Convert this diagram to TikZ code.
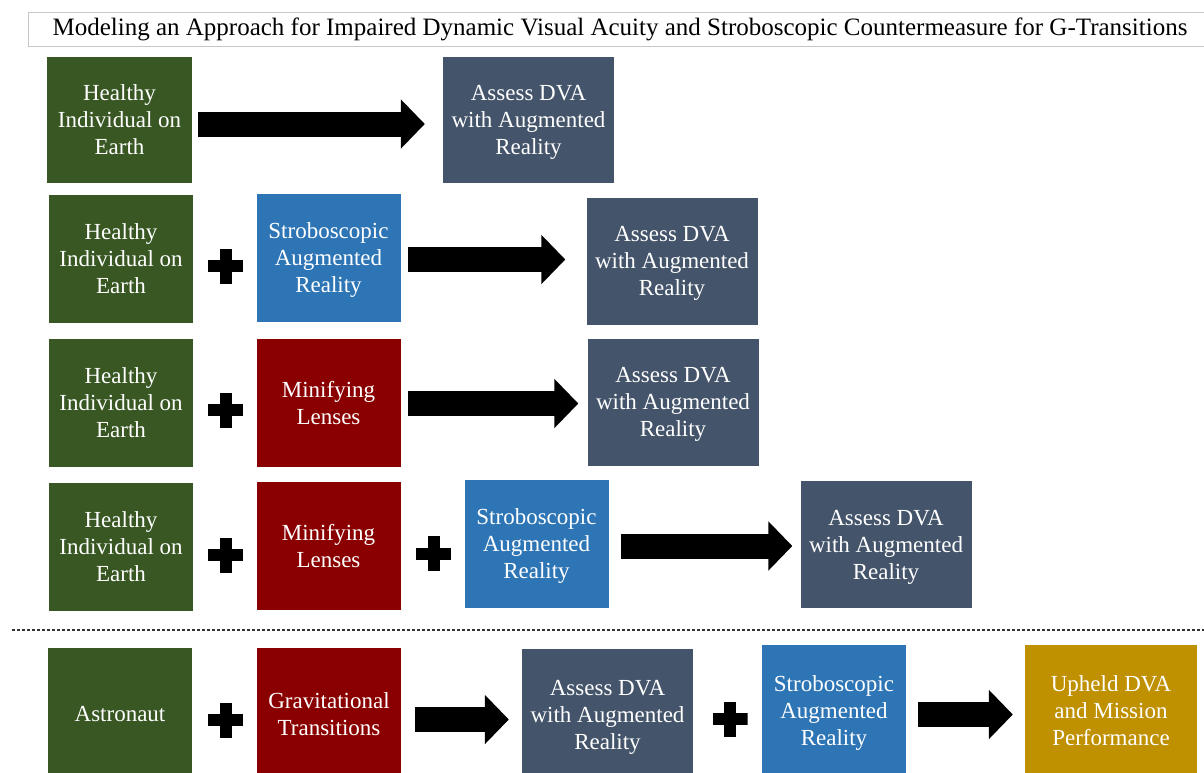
\documentclass[tikz,border=0pt]{standalone}
\usepackage{fontspec}
\setmainfont{Liberation Serif}
\usetikzlibrary{arrows.meta}
\definecolor{cgreen}{HTML}{385723}
\definecolor{cslate}{HTML}{44546A}
\definecolor{cblue}{HTML}{2E75B6}
\definecolor{cred}{HTML}{8A0000}
\definecolor{cgold}{HTML}{BF9000}
\tikzset{
  box/.style={inner sep=0pt, align=center, text=white,
    font=\fontsize{23}{27}\selectfont, text depth=-4pt},
  greenbox/.style={box, fill=cgreen, minimum width=144pt, minimum height=128pt},
  redbox/.style={box, fill=cred, minimum width=144pt, minimum height=128pt},
  bluebox/.style={box, fill=cblue, minimum width=144pt, minimum height=128pt},
  slatebox/.style={box, fill=cslate, minimum width=171pt, minimum height=127pt},
  goldbox/.style={box, fill=cgold, minimum width=172pt, minimum height=132pt},
  plussign/.style={inner sep=0pt, minimum size=35pt,
    path picture={
      \fill[black] ([xshift=-17.5pt,yshift=-6pt]path picture bounding box.center) rectangle ([xshift=17.5pt,yshift=6pt]path picture bounding box.center);
      \fill[black] ([xshift=-6pt,yshift=-17.5pt]path picture bounding box.center) rectangle ([xshift=6pt,yshift=17.5pt]path picture bounding box.center);
    }},
  bigarrow/.style={line width=25pt, black, -{Triangle[length=24pt,width=48pt]}},
}
\begin{document}
\begin{tikzpicture}[x=1pt,y=-1pt]
\useasboundingbox (0,0) rectangle (1204,772);
\clip (0,0) rectangle (1204,772);
\fill[white] (0,0) rectangle (1204,772);
% title
\node[draw=black!22, line width=1pt, minimum width=1184pt, minimum height=34pt, inner sep=0pt,
  font=\fontsize{25}{27}\selectfont, text depth=4pt] (title) at (620,29)
  {Modeling an Approach for Impaired Dynamic Visual Acuity and Stroboscopic Countermeasure for G-Transitions};
% row 1
\node[greenbox, minimum width=145pt, minimum height=126pt] (g1) at (119.5,120) {Healthy\\Individual on\\Earth};
\node[slatebox, minimum height=126pt] (a1) at (528.5,120) {Assess DVA\\with Augmented\\Reality};
\draw[bigarrow, shorten <=6pt, shorten >=18pt] (g1.east |- 0,124) -- (a1.west |- 0,124);
% row 2
\node[greenbox] (g2) at (121,259) {Healthy\\Individual on\\Earth};
\node[plussign] (p2) at (225.5,266) {};
\node[bluebox] (s2) at (328.5,258) {Stroboscopic\\Augmented\\Reality};
\node[slatebox] (a2) at (672,261) {Assess DVA\\with Augmented\\Reality};
\draw[bigarrow, shorten <=7pt, shorten >=21pt] (s2.east |- 0,259.5) -- (a2.west |- 0,259.5);
% row 3
\node[greenbox] (g3) at (121,402.5) {Healthy\\Individual on\\Earth};
\node[plussign] (p3) at (225.5,410) {};
\node[redbox] (m3) at (328.5,402.5) {Minifying\\Lenses};
\node[slatebox] (a3) at (673,402) {Assess DVA\\with Augmented\\Reality};
\draw[bigarrow, shorten <=7pt, shorten >=9pt] (m3.east |- 0,403.5) -- (a3.west |- 0,403.5);
% row 4
\node[greenbox] (g4) at (121,546.5) {Healthy\\Individual on\\Earth};
\node[plussign] (p4) at (225.5,555) {};
\node[redbox] (m4) at (328.5,546) {Minifying\\Lenses};
\node[plussign] (q4) at (433.5,553.5) {};
\node[bluebox] (s4) at (536.5,544) {Stroboscopic\\Augmented\\Reality};
\node[slatebox] (a4) at (886,544.5) {Assess DVA\\with Augmented\\Reality};
\draw[bigarrow, shorten <=12pt, shorten >=8pt] (s4.east |- 0,546) -- (a4.west |- 0,546);
% separator
\coordinate (dl) at (12,630);
\coordinate (dr) at (1204,630);
\draw[line width=1.5pt, black!80, dash pattern=on 3pt off 2pt] (dl) -- (dr);
% row 5
\node[greenbox, minimum height=132pt] (g5) at (120,714) {Astronaut};
\node[plussign] (p5) at (225.5,720) {};
\node[redbox, minimum height=132pt] (r5) at (329,714) {Gravitational\\Transitions};
\node[slatebox, minimum height=132pt] (a5) at (607.5,715) {Assess DVA\\with Augmented\\Reality};
\node[plussign] (q5) at (730,719) {};
\node[bluebox, minimum height=132pt] (s5) at (834,711) {Stroboscopic\\Augmented\\Reality};
\node[goldbox] (u5) at (1111,711) {Upheld DVA\\and Mission\\Performance};
\draw[bigarrow, shorten <=14pt, shorten >=13pt] (r5.east |- 0,719.5) -- (a5.west |- 0,719.5);
\draw[bigarrow, shorten <=12pt, shorten >=12pt] (s5.east |- 0,714.5) -- (u5.west |- 0,714.5);
\end{tikzpicture}
\end{document}
